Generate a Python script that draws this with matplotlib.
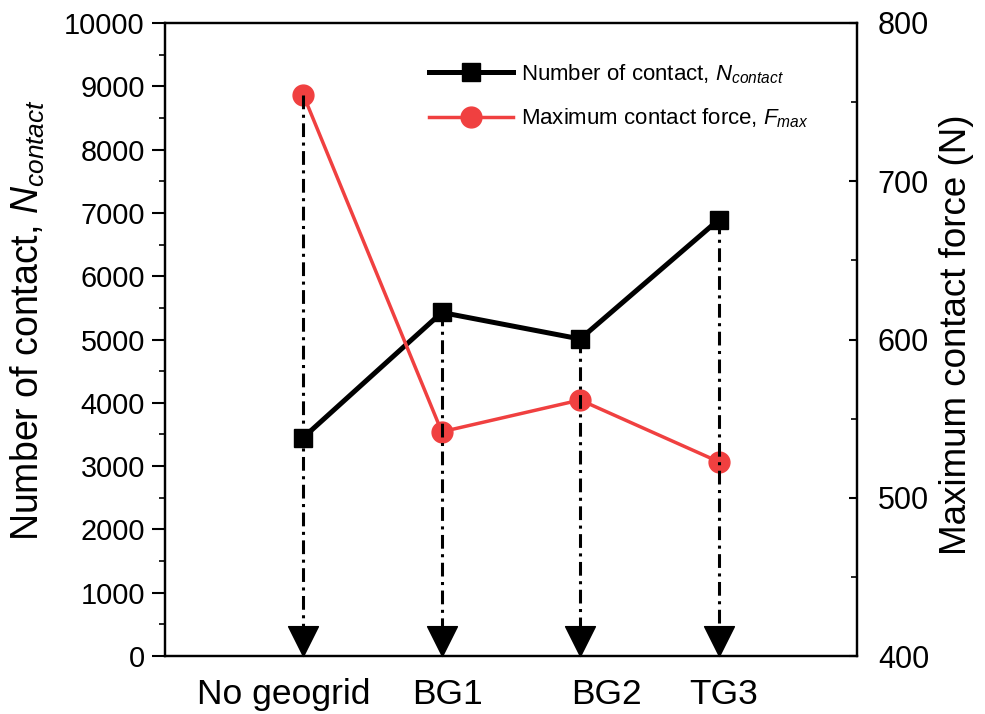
import matplotlib
matplotlib.use("Agg")
import matplotlib.pyplot as plt
from matplotlib.path import Path
from matplotlib.ticker import MultipleLocator
from matplotlib.transforms import ScaledTranslation

plt.rcParams['font.family'] = ['Liberation Sans', 'DejaVu Sans']
plt.rcParams['mathtext.fontset'] = 'custom'
plt.rcParams['mathtext.rm'] = 'Liberation Sans'
plt.rcParams['mathtext.it'] = 'Liberation Sans:italic'

# Data
cases = ["No geogrid", "BG1", "BG2", "TG3"]
n_contact = [3452, 5427, 5008, 6890]
f_max = [754.5, 541.7, 561.8, 522.8]

left_lim = (0, 10000)
right_lim = (400, 800)

x = list(range(1, len(cases) + 1))

fig = plt.figure(figsize=(9.85, 7.14), dpi=100)
ax = fig.add_axes([0.1675, 0.0812, 0.7025, 0.8866])
ax2 = ax.twinx()

# Number of contacts (left axis)
ax.plot(x, n_contact, color='black', lw=3.6, marker='s', markersize=13.5,
        label=r'Number of contact, $N_{contact}$', clip_on=False, zorder=3)

# Maximum contact force (right axis)
ax2.plot(x, f_max, color='#f04040', lw=2.5, marker='o', markersize=15,
         label=r'Maximum contact force, $F_{max}$', clip_on=False, zorder=3)

# Dash-dot drop lines with arrowheads down to the axis
span_l = left_lim[1] - left_lim[0]
span_r = right_lim[1] - right_lim[0]
tri = Path([(-0.5, 1.0), (0.5, 1.0), (0.0, 0.0), (-0.5, 1.0)],
           [Path.MOVETO, Path.LINETO, Path.LINETO, Path.CLOSEPOLY])
for xi, n, f in zip(x, n_contact, f_max):
    n_on_right = right_lim[0] + (n - left_lim[0]) / span_l * span_r
    top = max(n_on_right, f)
    ax2.plot([xi, xi], [top, right_lim[0] + 0.04 * span_r], color='black',
             lw=2.2, linestyle=(0, (4.5, 1.8, 1.0, 1.8)), zorder=4)
    ax2.plot([xi], [right_lim[0]], marker=tri, markersize=43, color='black',
             clip_on=False, zorder=5)

ax.set_xlim(0, 5)
ax.set_ylim(*left_lim)
ax2.set_ylim(*right_lim)

ax.set_xticks(x)
ax.set_xticklabels(cases, fontsize=25.5)
ax.tick_params(axis='x', length=0, pad=15.5)
# small horizontal shifts of the category names (points)
label_shift = [-14, 4, 19, 4]
for lab, dx in zip(ax.get_xticklabels(), label_shift):
    lab.set_transform(lab.get_transform() + ScaledTranslation(dx / 72, 0, fig.dpi_scale_trans))

ax.yaxis.set_major_locator(MultipleLocator(1000))
ax.yaxis.set_minor_locator(MultipleLocator(500))
ax.tick_params(axis='y', which='major', direction='out', length=9.5, width=1.5,
               labelsize=20.8, pad=5)
ax.tick_params(axis='y', which='minor', direction='out', length=4, width=1.2)

ax2.yaxis.set_major_locator(MultipleLocator(100))
ax2.yaxis.set_minor_locator(MultipleLocator(50))
ax2.tick_params(axis='y', which='major', direction='in', length=6, width=1.5,
                labelsize=22, pad=15)
ax2.tick_params(axis='y', which='minor', direction='in', length=4, width=1.2)

for a in (ax, ax2):
    for s in a.spines.values():
        s.set_linewidth(1.6)

ax.set_ylabel(r'Number of contact, $N_{contact}$', fontsize=27)
ax.yaxis.set_label_coords(-0.17, 0.531)
ax2.set_ylabel('Maximum contact force (N)', fontsize=26.5)
ax2.yaxis.set_label_coords(1.118, 0.507)

h1, l1 = ax.get_legend_handles_labels()
h2, l2 = ax2.get_legend_handles_labels()
ax2.legend(h1 + h2, l1 + l2, loc='upper left', bbox_to_anchor=(0.352, 0.97),
           frameon=False, fontsize=16, handlelength=3.8, labelspacing=0.95,
           handletextpad=0.35)

fig.savefig("out.png", dpi=100)
